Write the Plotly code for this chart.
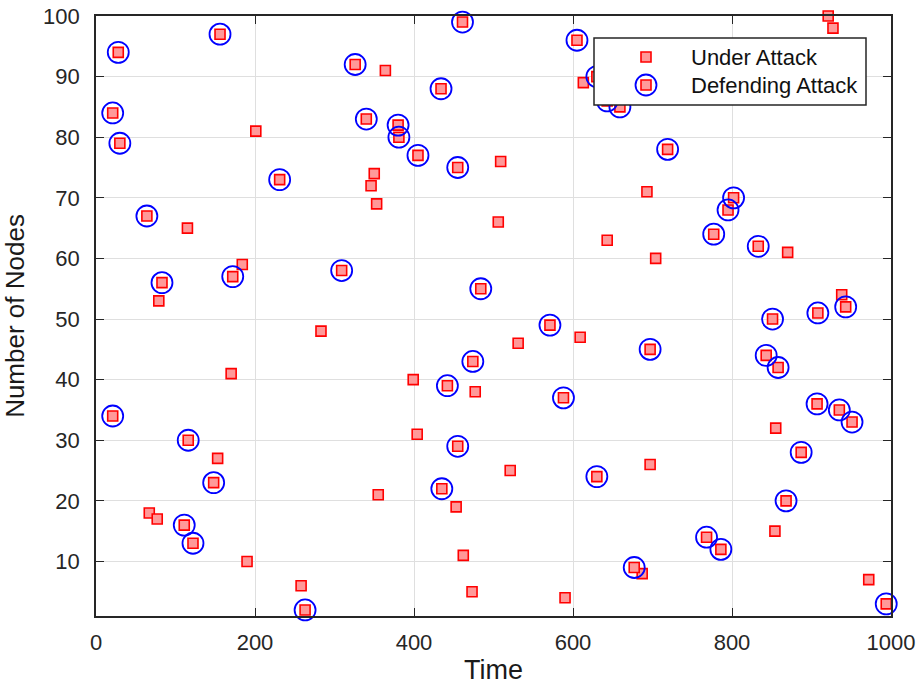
import plotly.graph_objects as go

# Defended (circled) attack events: time, number of nodes
time_defended = [21, 28, 30, 21, 64, 83, 156, 172, 231, 116, 148, 111, 122, 263,
                 309, 326, 340, 380, 381, 405, 434, 461, 455, 484, 442, 474, 455,
                 435, 571, 588, 605, 630, 643, 659, 719, 630, 697, 777, 795, 802,
                 833, 851, 908, 943, 843, 858, 907, 935, 951, 887, 868, 768, 786,
                 677, 994]
nodes_defended = [84, 94, 79, 34, 67, 56, 97, 57, 73, 30, 23, 16, 13, 2,
                  58, 92, 83, 82, 80, 77, 88, 99, 75, 55, 39, 43, 29,
                  22, 49, 37, 96, 90, 86, 85, 78, 24, 45, 64, 68, 70,
                  62, 50, 51, 52, 44, 42, 36, 35, 33, 28, 20, 14, 12,
                  9, 3]

# Attack events without defence
time_undefended = [79, 115, 201, 184, 170, 153, 67, 77, 190, 258, 283, 364, 350,
                   346, 353, 355, 509, 506, 399, 404, 477, 531, 521, 453, 462,
                   473, 590, 609, 613, 643, 693, 704, 697, 687, 921, 927, 870,
                   938, 855, 854, 972]
nodes_undefended = [53, 65, 81, 59, 41, 27, 18, 17, 10, 6, 48, 91, 74,
                    72, 69, 21, 76, 66, 40, 31, 38, 46, 25, 19, 11,
                    5, 4, 47, 89, 63, 71, 60, 26, 8, 100, 98, 61,
                    54, 32, 15, 7]

legend_labels = ["Under Attack", "Defending Attack"]
x_ticks = [0, 200, 400, 600, 800, 1000]
y_ticks = [10, 20, 30, 40, 50, 60, 70, 80, 90, 100]

FONT = "Liberation Sans, Arial, Helvetica, sans-serif"
SQ_FILL = "#FF9999"
SQ_LINE = "#FF0000"
CIRC = "#0000FF"
AX = "#262626"

time_all = time_undefended + time_defended
nodes_all = nodes_undefended + nodes_defended

fig = go.Figure()
fig.add_trace(go.Scatter(
    x=time_all, y=nodes_all, mode="markers", name=legend_labels[0],
    marker=dict(symbol="square", size=10, color=SQ_FILL,
                line=dict(color=SQ_LINE, width=1.6)),
    cliponaxis=False, showlegend=False))
fig.add_trace(go.Scatter(
    x=time_defended, y=nodes_defended, mode="markers", name=legend_labels[1],
    marker=dict(symbol="circle-open", size=21, color=CIRC,
                line=dict(color=CIRC, width=1.8)),
    cliponaxis=False, showlegend=False))

# Manual legend (box, glyphs, text)
L, R, T, B = 96, 891, 16, 616
W, H = R - L, B - T
def px(xp):
    return (xp - L) / W
def py(yp):
    return (B - yp) / H

shapes = [dict(type="rect", xref="paper", yref="paper",
               x0=px(594), x1=px(866), y0=py(105), y1=py(38),
               fillcolor="white", line=dict(color=AX, width=1.5), layer="above")]
for yy, circ in [(57, False), (85, True)]:
    if circ:
        shapes.append(dict(type="circle", xref="paper", yref="paper",
                           xsizemode="pixel", ysizemode="pixel",
                           xanchor=px(646), yanchor=py(yy),
                           x0=-10.5, x1=10.5, y0=-10.5, y1=10.5,
                           line=dict(color=CIRC, width=1.8), layer="above"))
    shapes.append(dict(type="rect", xref="paper", yref="paper",
                       xsizemode="pixel", ysizemode="pixel",
                       xanchor=px(646), yanchor=py(yy),
                       x0=-5, x1=5, y0=-5, y1=5,
                       fillcolor=SQ_FILL, line=dict(color=SQ_LINE, width=1.6),
                       layer="above"))

annotations = [dict(xref="paper", yref="paper", x=px(689), y=py(yy),
                    xanchor="left", yanchor="middle", text=t, showarrow=False,
                    font=dict(family=FONT, size=22, color="#111111"))
               for yy, t in [(57, legend_labels[0]), (85, legend_labels[1])]]

axis_common = dict(
    showline=True, linecolor=AX, linewidth=1.6, mirror="ticks",
    ticks="inside", ticklen=8, tickwidth=1.4, tickcolor=AX,
    showgrid=True, gridcolor="#DFDFDF", gridwidth=1, zeroline=False,
    automargin=False,
    tickfont=dict(family=FONT, size=22, color=AX),
)

fig.update_layout(
    width=920, height=685,
    margin=dict(l=L, r=920 - R, t=T, b=685 - B),
    paper_bgcolor="white", plot_bgcolor="white",
    xaxis=dict(range=[0, 1000], tickvals=x_ticks, ticklabelstandoff=6,
               title=dict(text="Time", standoff=6,
                          font=dict(family=FONT, size=27, color="#1a1a1a")),
               **axis_common),
    yaxis=dict(range=[1, 100], tickvals=y_ticks, ticklabelstandoff=10,
               title=dict(text="Number of Nodes", standoff=14,
                          font=dict(family=FONT, size=26, color="#1a1a1a")),
               **axis_common),
    shapes=shapes, annotations=annotations, showlegend=False,
)

fig.write_html("out.html")
